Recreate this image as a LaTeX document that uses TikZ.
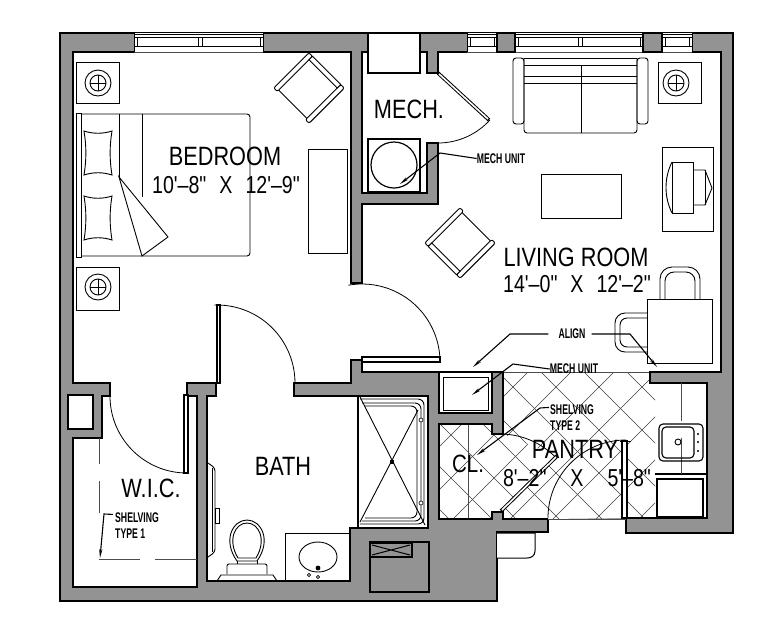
\documentclass[tikz,border=0pt]{standalone}
\usepackage{fontspec}
\setmainfont{Liberation Sans}
\newfontfamily\labelf[FakeStretch=0.82]{Liberation Sans}
\newfontfamily\dimf[FakeStretch=0.8]{Liberation Sans}
\newfontfamily\notef[FakeStretch=0.62]{Liberation Sans}
\usetikzlibrary{arrows.meta}
\definecolor{wallgray}{RGB}{147,147,147}
\newcommand{\dimgap}{\hspace{13pt}}
\newcommand{\widegap}{\hspace{24pt}}
\tikzset{
  wall/.style={line width=2pt,line join=miter,black},
  furn/.style={line width=0.9pt,black},
  thinl/.style={line width=0.6pt,black!70},
  hatchl/.style={line width=0.55pt,black!75},
  roomlabel/.style={inner sep=0pt,font=\labelf\fontsize{26.5}{27}\selectfont},
  dimlabel/.style={inner sep=0pt,font=\dimf\fontsize{24.5}{25}\selectfont},
  notelabel/.style={inner sep=0pt,align=left,font=\notef\bfseries\fontsize{14}{15}\selectfont},
  leader/.style={line width=1.1pt,black,-{Stealth[length=9pt,width=3.2pt]}},
}
\newcommand{\lampat}[2]{%
  \draw[furn] (#1,#2) circle[radius=13pt];
  \draw[furn] (#1,#2) circle[radius=8pt];
  \draw[furn] (#1-8,#2) -- (#1+8,#2) (#1,#2-8) -- (#1,#2+8);}
\newcommand{\armchair}[3]{%
  \begin{scope}[shift={(#1,#2)},rotate=#3]
    \draw[furn,rounded corners=2pt,fill=white] (-25,-25) rectangle (-20,25);
    \draw[furn,rounded corners=2pt,fill=white] (20,-25) rectangle (25,25);
    \draw[furn,fill=white] (-20,-25) -- (20,-25) -- (20,-20) -- (-20,-20) -- cycle;
    \draw[furn] (-20,23) -- (20,23);
  \end{scope}}
\newcommand{\pillow}[1]{%
  \begin{scope}[shift={(84,#1)}]
    \draw[furn] (0,0) .. controls (9,3) and (19,3) .. (28,0)
      .. controls (25.5,15) and (25.5,29) .. (28,44)
      .. controls (19,41) and (9,41) .. (0,44)
      .. controls (2.5,29) and (2.5,15) .. (0,0) -- cycle;
  \end{scope}}
\newcommand{\windowat}[2]{%
  \fill[white] (#1,33) rectangle (#2,52);
  \draw[line width=0.9pt] (#1,34) -- (#2,34);
  \draw[line width=0.7pt] (#1,37) -- (#2,37) (#1,46) -- (#2,46);
  \draw[line width=0.5pt,black!70] (#1,52) -- (#2,52);
  \draw[line width=0.7pt] (#1+3,37) -- (#1+3,46) (#2-3,37) -- (#2-3,46);}
\begin{document}
\begin{tikzpicture}[x=1pt,y=1pt,yscale=-1]
\useasboundingbox (0,0) rectangle (773,643);
\fill[white] (0,0) rectangle (773,643);
% outer slab
\fill[wallgray] (60,33) -- (733,33) -- (733,533) -- (626,533) -- (626,519) -- (548,519) -- (548,532)
  -- (497,532) -- (497,601) -- (60,601) -- cycle;
\draw[wall] (548,519) -- (548,532) -- (497,532) -- (497,601) -- (60,601) -- (60,33) -- (733,33) -- (733,533) -- (626,533) -- (626,519);
% rooms
\fill[white] (548,519) -- (503,519) -- (503,512) -- (492,512) -- (492,519) -- (439,519) -- (439,424) -- (492,424) -- (492,434) -- (503,434) -- (503,372)
  -- (362,372) -- (362,360) -- (351,360) -- (351,383) -- (294,383) -- (294,396) -- (428,396) -- (428,528) -- (350,528) -- (350,581) -- (207,581) -- (207,396)
  -- (216,396) -- (216,383) -- (187,383) -- (187,396) -- (197,396) -- (197,587) -- (73,587) -- (73,438) -- (102,438) -- (102,396) -- (110,396) -- (110,383) -- (73,383)
  -- (73,52) -- (351,52) -- (351,283) -- (362,283) -- (362,204) -- (438,204) -- (438,143) -- (427,143) -- (427,193) -- (362,193) -- (362,52) -- (427,52) -- (427,73) -- (438,73) -- (438,52)
  -- (721,52) -- (721,372) -- (650,372) -- (650,383) -- (707,383) -- (707,518) -- (626,518) -- cycle;
% hatch
\begin{scope}
  \clip (439,424) -- (492,424) -- (492,434) -- (503,434) -- (557,456) -- (500,513) -- (492,512) -- (492,519) -- (439,519) -- cycle;
  \foreach \s in {843,886,...,1100} \draw[hatchl] ({\s-400},400) -- ({\s-540},540);
  \foreach \d in {-70,-27,...,120} \draw[hatchl] ({\d+400},400) -- ({\d+540},540);
\end{scope}
\begin{scope}
  \clip (503,372) -- (650,372) -- (650,383) -- (655,383) -- (655,519) -- (503,519) -- (503,512) -- (557,456) -- (503,434) -- cycle;
  \foreach \s in {857,900,...,1200} \draw[hatchl] ({\s-350},350) -- ({\s-550},550);
  \foreach \d in {-46,-3,...,298} \draw[hatchl] ({\d+350},350) -- ({\d+550},550);
\end{scope}
\draw[thinl] (468,424) -- (468,519);
\draw[thinl] (503,372) -- (650,372) (548,519) -- (626,519);
% wall lines
\draw[wall] (548,519) -- (503,519) -- (503,512) -- (492,512) -- (492,519) -- (439,519) -- (439,424) -- (492,424) -- (492,434) -- (503,434) -- (503,372)
  -- (362,372) -- (362,360) -- (351,360) -- (351,383) -- (294,383) -- (294,396) -- (428,396) -- (428,528) -- (350,528) -- (350,581) -- (207,581) -- (207,396)
  -- (216,396) -- (216,383) -- (187,383) -- (187,396) -- (197,396) -- (197,587) -- (73,587) -- (73,438) -- (102,438) -- (102,396) -- (110,396) -- (110,383) -- (73,383)
  -- (73,52) -- (351,52) -- (351,283) -- (362,283) -- (362,204) -- (438,204) -- (438,143) -- (427,143) -- (427,193) -- (362,193) -- (362,52) -- (427,52) -- (427,73) -- (438,73) -- (438,52)
  -- (721,52) -- (721,372) -- (650,372) -- (650,383) -- (707,383) -- (707,518) -- (626,518);
% windows and piers
\windowat{134}{263}
\draw[line width=0.7pt] (198,37) -- (198,46) (202,37) -- (202,46);
\windowat{467}{497}
\windowat{515}{643}
\draw[line width=0.7pt] (578,37) -- (578,46) (582,37) -- (582,46);
\windowat{662}{692}
\draw[wall,fill=wallgray] (497,33) rectangle (515,52);
\draw[wall,fill=wallgray] (643,33) rectangle (662,52);
\draw[line width=1pt] (134,33) -- (134,52) (263,33) -- (263,52) (467,33) -- (467,52) (692,33) -- (692,52);
% service boxes
\draw[wall,fill=white] (368,33) rectangle (420,73);
\draw[wall,fill=white] (368,139) rectangle (420,192);
\draw[furn,line width=1.2pt] (394,165) circle[radius=23pt];
\draw[wall,fill=white] (68,395) rectangle (93,429);
\draw[wall,fill=white] (439,372) rectangle (492,413);
\draw[furn] (443,377) rectangle (488,410);
\draw[wall] (370,542) rectangle (429,592);
\draw[line width=2.5pt] (370,543) rectangle (412,557);
\draw[line width=1pt] (372,545) -- (410,555) (372,555) -- (410,545);
\draw[line width=1pt,fill=white] (497,533) -- (535,533) -- (535,551) .. controls (535,556) and (531,558) .. (527,558) -- (497,558);
% door swings
\draw[line width=0.8pt] (362,362) ++(-100:78pt) arc[start angle=-100,end angle=0,radius=78pt];
\draw[line width=0.8pt] (217,383) ++(-92:78pt) arc[start angle=-92,end angle=0,radius=78pt];
\draw[line width=0.8pt] (187,396) ++(180:77pt) arc[start angle=180,end angle=90,radius=77pt];
\draw[line width=0.8pt] (438,73) ++(90:70pt) arc[start angle=90,end angle=42,radius=70pt];
\draw[line width=0.8pt] (500,512) ++(-96:78pt) arc[start angle=-96,end angle=-45,radius=78pt];
\draw[line width=0.8pt] (626,518) ++(180:78pt) arc[start angle=180,end angle=270,radius=78pt];
% door leaves
\draw[furn,line width=1.1pt,fill=white] (362,357) rectangle (440,362);
\draw[furn,line width=1.1pt,fill=white] (217,305) rectangle (220,383);
\draw[furn,line width=1.1pt,fill=white] (184,395) rectangle (188,473);
\draw[furn,line width=1.1pt,fill=white] (622,441) rectangle (627,518);
\draw[line width=0.7pt] (620,441) -- (631,441);
\draw[line width=3.6pt] (438,73) -- (489,120);
\draw[line width=1.6pt,white] (439,74) -- (488,119);
\draw[line width=3.6pt] (501,511) -- (557,456);
\draw[line width=1.6pt,white] (502,510) -- (556,457);
% bedroom furniture
\draw[furn] (76,62) rectangle (119,103);
\lampat{98}{83}
\draw[furn] (76,267) rectangle (119,310);
\lampat{98}{287}
\draw[furn] (76,113) rectangle (81,257);
\draw[furn,rounded corners=3pt] (81,114) -- (250,114) -- (250,256) -- (81,256);
\draw[furn] (119,114) -- (119,177);
\draw[furn] (142,114) -- (142,197);
\draw[furn,fill=white] (119,177) -- (168,237) -- (142,256) -- cycle;
\pillow{131}
\pillow{196}
\armchair{309}{88}{45}
\draw[furn] (308,149) rectangle (347,253);
% living room furniture
\draw[furn,rounded corners=3pt,fill=white] (513,58) rectangle (524,124);
\draw[furn,rounded corners=3pt,fill=white] (637,58) rectangle (648,124);
\draw[furn,rounded corners=3pt] (524,58) -- (524,133) -- (637,133) -- (637,58);
\draw[furn] (524,58) -- (637,58) (524,65) -- (637,65) (524,76) -- (637,76) (524,83) -- (637,83) (581,65) -- (581,133);
\draw[furn] (658,62) rectangle (701,103);
\lampat{676}{83}
\draw[furn] (541,174) rectangle (621,218);
\draw[furn] (662,147) rectangle (713,231);
\draw[furn] (672,162) rectangle (693,213);
\draw[furn] (693,170) -- (705,170) -- (712,188) -- (705,205) -- (693,205);
\draw[furn] (705,170) -- (705,205);
\draw[furn] (672,162) .. controls (664,178) and (664,197) .. (672,213);
\armchair{460}{243}{225}
% dining set
\draw[furn,rounded corners=12pt] (660,299) -- (660,267) -- (700,267) -- (700,299);
\draw[furn,rounded corners=9pt] (665,299) -- (665,272) -- (695,272) -- (695,299);
\draw[furn,rounded corners=10pt] (647,313) -- (615,313) -- (615,352) -- (647,352);
\draw[furn,rounded corners=7pt] (647,318) -- (620,318) -- (620,347) -- (647,347);
\draw[furn,fill=white] (647,299) rectangle (712,363);
% kitchen
\draw[line width=1.4pt] (655,474) -- (707,474);
\draw[furn,line width=1.2pt] (657,479) rectangle (703,517);
\draw[thinl,line width=0.8pt] (681,383) -- (681,421) (681,438) -- (681,474);
\draw[furn,line width=1.1pt,rounded corners=4pt] (659,424) rectangle (703,461);
\draw[furn,line width=1.1pt,rounded corners=4pt] (662,427) rectangle (694,458);
\draw[furn] (678,442) circle[radius=3pt];
\fill (698,434) circle[radius=1.2pt] (698,442) circle[radius=1.2pt] (698,451) circle[radius=1.2pt];
% bath
\draw[furn,rounded corners=3pt] (208,463) -- (215,468) -- (215,552) -- (208,557);
\draw[furn] (212,468) -- (212,552);
\draw[furn] (215,508) rectangle (219,523);
\draw[furn,fill=white] (237,561) .. controls (222,540) and (233,520) .. (247,520) .. controls (261,520) and (272,540) .. (257,561) -- cycle;
\draw[furn] (238,558) .. controls (227,540) and (235,523) .. (247,523) .. controls (259,523) and (267,540) .. (256,558) -- cycle;
\draw[furn] (237,561) -- (237,564) (257,561) -- (257,564);
\draw[furn,rounded corners=2pt] (227,574) -- (227,564) -- (267,564) -- (267,574);
\draw[furn] (217,581) -- (221,575) -- (273,575) -- (277,581);
\draw[furn] (285,581) -- (285,533) -- (350,533);
\draw[furn] (318,557) ellipse[x radius=19pt,y radius=15pt];
\fill (318,568) circle[radius=2.4pt];
\draw[line width=0.6pt] (309,575) circle[radius=1.6pt] (318,577) circle[radius=1.6pt];
% shower
\draw[wall,line width=1.4pt] (358,395) -- (358,528);
\draw[furn,rounded corners=6pt] (360,399) -- (424,399) -- (424,524) -- (360,524);
\draw[furn,rounded corners=6pt] (362,403) -- (421,403) -- (421,521) -- (362,521);
\draw[furn,rounded corners=6pt] (365,406) -- (417,406) -- (417,518) -- (365,518);
\draw[line width=0.9pt] (360,397) -- (425,525) (418,410) -- (360,522);
\fill (390,460) rectangle (394,464);
\draw[line width=0.6pt,fill=white] (421,420) circle[radius=2pt] (421,503) circle[radius=2pt];
% WIC shelving
\draw[thinl,line width=0.8pt] (99,438) -- (99,464) (99,481) -- (99,513) (99,559) -- (140,559) (155,559) -- (197,559);
% labels
\node[roomlabel] (bedroom) at (225,156) {BEDROOM};
\node[dimlabel] (bedroomdim) at (226,185) {10'–8"\dimgap X\dimgap 12'–9"};
\node[roomlabel] (mech) at (409,109) {MECH.};
\node[roomlabel] (living) at (576,257) {LIVING ROOM};
\node[dimlabel] (livingdim) at (577,284) {14'–0"\dimgap X\dimgap 12'–2"};
\node[roomlabel] (pantry) at (575,449) {PANTRY};
\node[dimlabel] (pantrydim) at (577,478) {8'–2"\widegap X\widegap 5'–8"};
\node[roomlabel,font=\labelf\fontsize{25}{26}\selectfont] (closet) at (468,464) {CL.};
\node[roomlabel] (bath) at (283,466) {BATH};
\node[roomlabel] (wic) at (151,488) {W.I.C.};
\node[notelabel] (mechunit) at (501,158.5) {MECH UNIT};
\node[notelabel] (mechunitb) at (574,369) {MECH UNIT};
\node[notelabel] (align) at (572,334) {ALIGN};
\node[notelabel,anchor=west] (shelftwo) at (550,417.5) {SHELVING\\[1pt]TYPE 2};
\node[notelabel,anchor=west] (shelfone) at (115,525.5) {SHELVING\\[1pt]TYPE 1};
% leaders
\coordinate (t1) at (400,184);
\coordinate (t2) at (473,367);
\coordinate (t3) at (657,367);
\coordinate (t4) at (472,395);
\coordinate (t5) at (477,455);
\coordinate (t6) at (100,558);
\draw[leader] (mechunit.west) -- (440,153) -- (t1);
\draw[leader] (align.west) ++(-10,0) -- (510,334) -- (t2);
\draw[leader] (align.east) ++(6,0) -- (630,334) -- (t3);
\draw[leader] (mechunitb.west) -- (513,364) -- (t4);
\draw[leader] (shelftwo.north west) ++(-1,3) -- (540,408) -- (t5);
\draw[leader] (shelfone.north west) ++(-2,2) -- (104,514) -- (t6);
\end{tikzpicture}
\end{document}
